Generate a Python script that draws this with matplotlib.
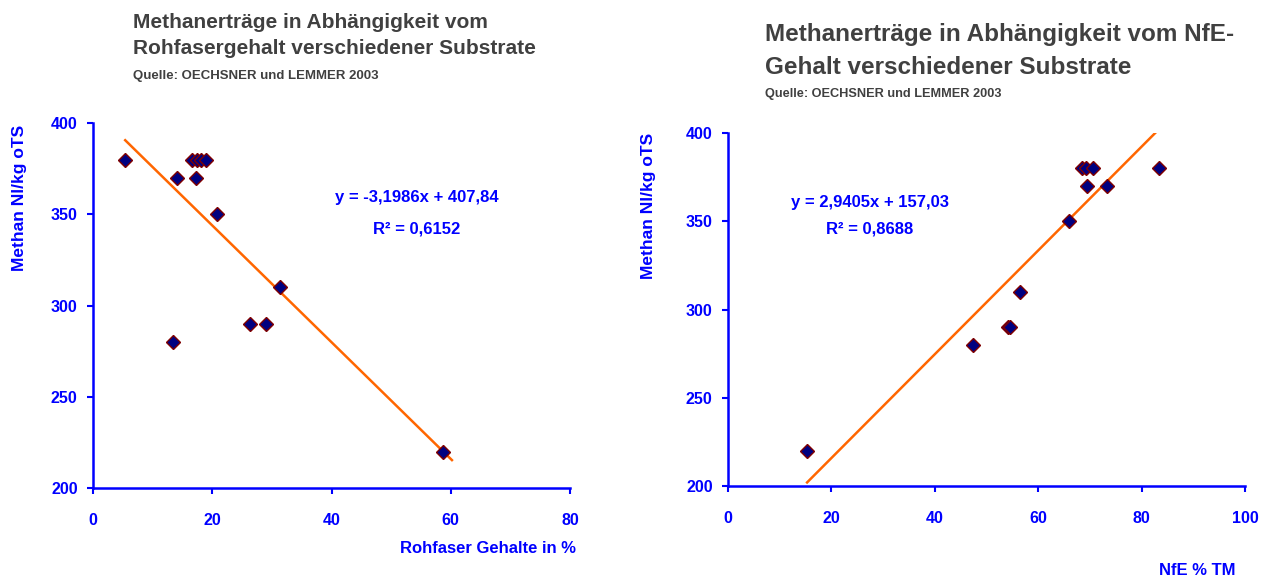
import matplotlib
matplotlib.use("Agg")
import matplotlib.pyplot as plt

plt.rcParams['font.family'] = ['Liberation Sans', 'DejaVu Sans']
plt.rcParams['font.weight'] = 'bold'

# Daten links: Rohfaser
rohfaser_x = [5.4, 13.4, 14.1, 16.6, 17.3, 17.4, 18.1, 18.9, 20.8, 26.3, 29.0, 31.4, 58.7]
rohfaser_y = [380, 280, 370, 380, 370, 380, 380, 380, 350, 290, 290, 310, 220]

# Daten rechts: NfE
nfe_x = [15.3, 47.4, 54.2, 54.6, 56.5, 66.0, 68.5, 69.2, 69.4, 70.6, 73.3, 83.4]
nfe_y = [220, 280, 290, 290, 310, 350, 380, 380, 370, 380, 370, 380]

# Trendlinien (Excel)
fit_left = (-3.1986, 407.84)
fit_right = (2.9405, 157.03)

blue = '#0000FF'
orange = '#FF6600'
W, H = 1276, 581

fig = plt.figure(figsize=(12.76, 5.81), dpi=100)


def style_axes(ax, xmax):
    for s in ['top', 'right']:
        ax.spines[s].set_visible(False)
    for s in ['left', 'bottom']:
        ax.spines[s].set_color(blue)
        ax.spines[s].set_linewidth(1.8)
    ax.set_xlim(0, xmax)
    ax.set_ylim(200, 400)
    ax.set_yticks([200, 250, 300, 350, 400])
    ax.tick_params(axis='both', colors=blue, width=1.5, length=4, labelsize=11.5)
    ax.tick_params(axis='x', pad=14)
    ax.tick_params(axis='y', pad=7)
    for lab in ax.get_xticklabels() + ax.get_yticklabels():
        lab.set_fontweight('bold')


# linkes Diagramm
ax1 = fig.add_axes([93 / W, 1 - 488 / H, 477 / W, 365 / H])
style_axes(ax1, 80)
ax1.set_xticks([0, 20, 40, 60, 80])
xs = [min(rohfaser_x), max(rohfaser_x) + 1.5]
ax1.plot(xs, [fit_left[0] * x + fit_left[1] for x in xs], color=orange, lw=1.8, zorder=2)
ax1.plot(rohfaser_x, rohfaser_y, 'D', ms=7.5, mfc='#000080', mec='#800000', mew=1, ls='none', zorder=3)
ax1.set_ylabel('Methan Nl/kg oTS', color=blue, fontsize=12.5, fontweight='bold')
ax1.yaxis.set_label_coords(-0.138, 0.795)
ax1.set_xlabel('Rohfaser Gehalte in %', color=blue, fontsize=12, fontweight='bold')
ax1.xaxis.set_label_coords(0.828, -0.146)

# rechtes Diagramm
ax2 = fig.add_axes([728 / W, 1 - 486 / H, 517 / W, 353 / H])
style_axes(ax2, 100)
ax2.set_xticks([0, 20, 40, 60, 80, 100])
xs = [min(nfe_x), max(nfe_x)]
ax2.plot(xs, [fit_right[0] * x + fit_right[1] for x in xs], color=orange, lw=1.8, zorder=2)
ax2.plot(nfe_x, nfe_y, 'D', ms=7.5, mfc='#000080', mec='#800000', mew=1, ls='none', zorder=3)
ax2.set_ylabel('Methan Nl/kg oTS', color=blue, fontsize=12.5, fontweight='bold')
ax2.yaxis.set_label_coords(-0.14, 0.793)
ax2.set_xlabel('NfE % TM', color=blue, fontsize=12, fontweight='bold')
ax2.xaxis.set_label_coords(0.907, -0.218)

# Gleichungen
fig.text(417 / W, 1 - 198 / H, 'y = -3,1986x + 407,84', color=blue, fontsize=12,
         fontweight='bold', ha='center', va='center')
fig.text(417 / W, 1 - 229 / H, 'R² = 0,6152', color=blue, fontsize=12,
         fontweight='bold', ha='center', va='center')
fig.text(870 / W, 1 - 203 / H, 'y = 2,9405x + 157,03', color=blue, fontsize=12,
         fontweight='bold', ha='center', va='center')
fig.text(870 / W, 1 - 229 / H, 'R² = 0,8688', color=blue, fontsize=12,
         fontweight='bold', ha='center', va='center')

# Titel
tc = '#404040'
fig.text(133 / W, 1 - 22 / H, 'Methanerträge in Abhängigkeit vom', color=tc, fontsize=15,
         fontweight='bold', va='center')
fig.text(133 / W, 1 - 48 / H, 'Rohfasergehalt verschiedener Substrate', color=tc, fontsize=15,
         fontweight='bold', va='center')
fig.text(133 / W, 1 - 76 / H, 'Quelle: OECHSNER und LEMMER 2003', color=tc, fontsize=9.5,
         fontweight='bold', va='center')
fig.text(765 / W, 1 - 34 / H, 'Methanerträge in Abhängigkeit vom NfE-', color=tc, fontsize=17.5,
         fontweight='bold', va='center')
fig.text(765 / W, 1 - 68 / H, 'Gehalt verschiedener Substrate', color=tc, fontsize=17.5,
         fontweight='bold', va='center')
fig.text(765 / W, 1 - 94 / H, 'Quelle: OECHSNER und LEMMER 2003', color=tc, fontsize=9.2,
         fontweight='bold', va='center')

fig.savefig('out.png', dpi=100)
